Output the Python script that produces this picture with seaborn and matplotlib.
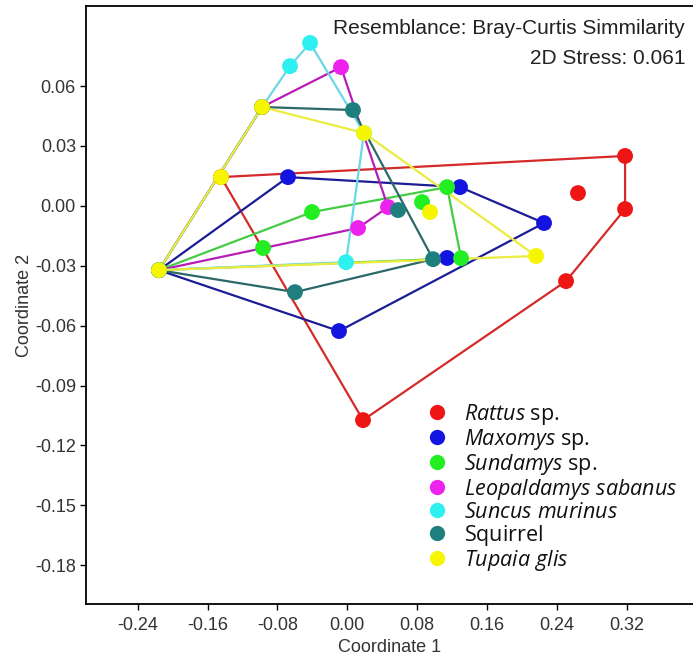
import numpy as np
import pandas as pd
import seaborn as sns
import matplotlib
matplotlib.use("Agg")
import matplotlib.pyplot as plt
from matplotlib.lines import Line2D

# ---------------- data (nMDS coordinates) ----------------
species = ["Rattus sp.", "Maxomys sp.", "Sundamys sp.", "Leopaldamys sabanus",
           "Suncus murinus", "Squirrel", "Tupaia glis"]
legend_labels = [r"$\it{Rattus}$ sp.", r"$\it{Maxomys}$ sp.", r"$\it{Sundamys}$ sp.",
                 r"$\it{Leopaldamys\ sabanus}$", r"$\it{Suncus\ murinus}$",
                 r"$\mathrm{Squirrel}$", r"$\it{Tupaia\ glis}$"]

rattus_x = [-0.1446, 0.3182, 0.2643, 0.3182, 0.2506, 0.0181]
rattus_y = [0.0144, 0.0250, 0.0064, -0.0016, -0.0377, -0.1073]

maxomys_x = [-0.2156, -0.0678, 0.1292, 0.2254, 0.1144, -0.0094]
maxomys_y = [-0.0322, 0.0144, 0.0094, -0.0086, -0.0261, -0.0627]

sundamys_x = [-0.2156, -0.0403, -0.0964, 0.1144, 0.0857, 0.1304]
sundamys_y = [-0.0322, -0.0031, -0.0211, 0.0094, 0.0019, -0.0262]

leopoldamys_x = [-0.2156, -0.0976, -0.0071, 0.0467, 0.0124]
leopoldamys_y = [-0.0322, 0.0495, 0.0695, -0.0006, -0.0111]

suncus_x = [-0.2156, -0.0976, -0.0655, -0.0426, 0.0192, -0.0014]
suncus_y = [-0.0322, 0.0495, 0.0700, 0.0816, 0.0365, -0.0282]

squirrel_x = [-0.2156, -0.0976, 0.0066, 0.0582, 0.0983, -0.0598]
squirrel_y = [-0.0322, 0.0495, 0.0480, -0.0021, -0.0267, -0.0432]

tupaia_x = [-0.2156, -0.1446, -0.0976, 0.0192, 0.0948, 0.2163]
tupaia_y = [-0.0322, 0.0144, 0.0495, 0.0365, -0.0031, -0.0251]

x_ticks = [-0.24, -0.16, -0.08, 0.00, 0.08, 0.16, 0.24, 0.32]
y_ticks = [0.06, 0.03, 0.00, -0.03, -0.06, -0.09, -0.12, -0.15, -0.18]

# ---------------- styling ----------------
point_colors = ["#ee1515", "#1414e0", "#22ee22", "#ee22ee", "#2ef0f0", "#1f7f7f", "#f6f600"]
hull_colors = ["#d42a2a", "#1c1c96", "#44cc44", "#b51eb5", "#6ad8e6", "#2c6868", "#ecec40"]

sns.set_theme(style="ticks")
plt.rcParams["font.family"] = ["Liberation Sans", "DejaVu Sans"]
plt.rcParams["mathtext.fontset"] = "custom"
plt.rcParams["mathtext.it"] = "Open Sans:italic"
plt.rcParams["mathtext.rm"] = "Open Sans"

xs = [rattus_x, maxomys_x, sundamys_x, leopoldamys_x, suncus_x, squirrel_x, tupaia_x]
ys = [rattus_y, maxomys_y, sundamys_y, leopoldamys_y, suncus_y, squirrel_y, tupaia_y]
df = pd.concat([pd.DataFrame({"x": x, "y": y, "species": s})
                for s, x, y in zip(species, xs, ys)], ignore_index=True)


def convex_hull(pts):
    pts = sorted(set(pts))
    if len(pts) < 3:
        return pts
    def cross(o, a, b):
        return (a[0] - o[0]) * (b[1] - o[1]) - (a[1] - o[1]) * (b[0] - o[0])
    lower, upper = [], []
    for p in pts:
        while len(lower) >= 2 and cross(lower[-2], lower[-1], p) <= 0:
            lower.pop()
        lower.append(p)
    for p in reversed(pts):
        while len(upper) >= 2 and cross(upper[-2], upper[-1], p) <= 0:
            upper.pop()
        upper.append(p)
    return lower[:-1] + upper[:-1]


fig = plt.figure(figsize=(6.93, 6.57), dpi=100)
ax = fig.add_axes([85.7 / 693, 1 - 604 / 657, 1 - 85.7 / 693, (604 - 6) / 657])

for s, x, y, c in zip(species, xs, ys, hull_colors):
    h = convex_hull(list(zip(x, y)))
    hx = [p[0] for p in h] + [h[0][0]]
    hy = [p[1] for p in h] + [h[0][1]]
    ax.plot(hx, hy, color=c, lw=1.6, zorder=2, solid_joinstyle="round")

sns.scatterplot(data=df, x="x", y="y", hue="species", hue_order=species,
                palette=dict(zip(species, point_colors)), s=130, linewidth=0,
                ax=ax, legend=False, zorder=3)

ax.set_xlim(-0.2995, 0.396)
ax.set_ylim(-0.1994, 0.1001)
ax.set_xticks(x_ticks)
ax.set_xticklabels([f"{v:.2f}" for v in x_ticks])
ax.set_yticks(y_ticks)
ax.set_yticklabels([f"{v:.2f}" for v in y_ticks])
ax.tick_params(axis="both", direction="out", length=4, width=1, color="black",
               labelsize=13, labelcolor="#333333")
ax.tick_params(axis="x", pad=5)
ax.tick_params(axis="y", pad=3)
for side in ["left", "bottom", "top"]:
    ax.spines[side].set_color("black")
    ax.spines[side].set_linewidth(1.3)
ax.spines["right"].set_visible(False)

ax.set_xlabel("Coordinate 1", fontsize=13, color="#333333", labelpad=4)
ax.set_ylabel("Coordinate 2", fontsize=13, color="#333333", labelpad=1)

fig.text(685 / 693, 1 - 28 / 657, "Resemblance: Bray-Curtis Simmilarity",
         ha="right", va="center", fontsize=15, color="#222222")
fig.text(685 / 693, 1 - 58 / 657, "2D Stress: 0.061",
         ha="right", va="center", fontsize=15, color="#222222")

handles = [Line2D([0], [0], marker="o", linestyle="none", markersize=11,
                  markerfacecolor=c, markeredgewidth=0) for c in point_colors]
leg = ax.legend(handles, legend_labels, loc="upper left",
                bbox_to_anchor=(427 / 693, 1 - 402 / 657), bbox_transform=fig.transFigure,
                frameon=False, prop={"family": "Open Sans", "size": 15.5},
                handlelength=0.93, handletextpad=0.79, labelspacing=0.0, borderpad=0,
                borderaxespad=0)
for t in leg.get_texts():
    t.set_color("#111111")

fig.savefig("out.png", dpi=100)
